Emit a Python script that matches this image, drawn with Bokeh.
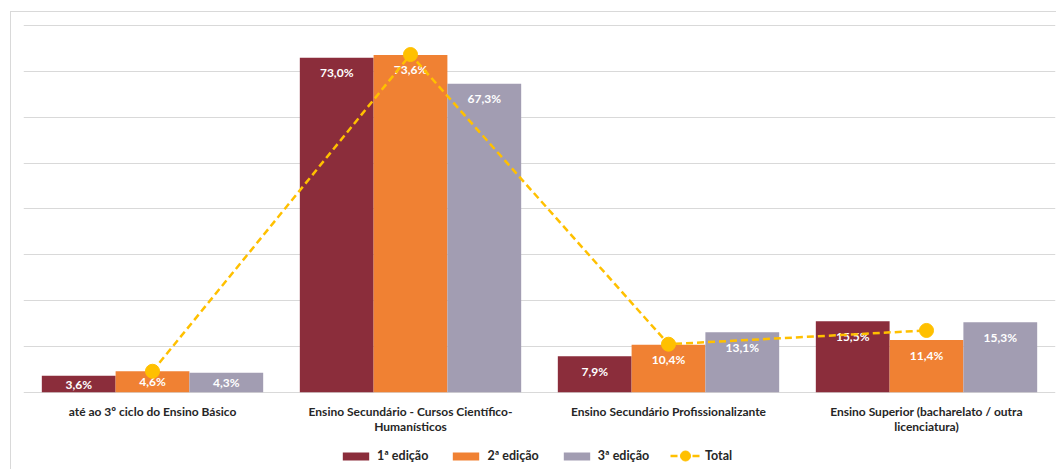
from bokeh.plotting import figure
from bokeh.models import (FactorRange, Range1d, ColumnDataSource, Legend, LegendItem,
                          FixedTicker)
from bokeh.transform import dodge
from bokeh.core.properties import value
from bokeh.embed import file_html
from bokeh.resources import INLINE

categories = ["até ao 3º ciclo do Ensino Básico",
              "Ensino Secundário - Cursos Científico-\nHumanísticos",
              "Ensino Secundário Profissionalizante",
              "Ensino Superior (bacharelato / outra\nlicenciatura)"]
ed1 = [3.6, 73.0, 7.9, 15.5]
ed2 = [4.6, 73.6, 10.4, 11.4]
ed3 = [4.3, 67.3, 13.1, 15.3]
total = [4.6, 73.7, 10.5, 13.5]
grid_ticks = [0, 10, 20, 30, 40, 50, 60, 70, 80]
series_names = ["1ª edição", "2ª edição", "3ª edição"]
total_name = "Total"
colors = ["#8B2D3B", "#F08133", "#A29DB2"]
total_color = "#FFC000"

FONT = "Lato"
BW = 0.286

p = figure(x_range=FactorRange(*categories), y_range=Range1d(-17.05, 80.25),
           width=1046, height=458, output_backend="svg", toolbar_location=None,
           min_border_left=12, min_border_right=2, min_border_top=12, min_border_bottom=0)
p.margin = (11, 0, 0, 10)
p.stylesheets = [":host { border-top: 1px solid #d9d9d9; border-left: 1px solid #d9d9d9; box-sizing: border-box; }"]
p.outline_line_color = None
p.xgrid.grid_line_color = None
p.ygrid.ticker = FixedTicker(ticks=grid_ticks)
p.ygrid.grid_line_color = "#d9d9d9"
p.ygrid.grid_line_width = 1
p.yaxis.visible = False
p.xaxis.visible = False

# category labels (drawn below the baseline)
l1 = [c.split("\n")[0] for c in categories]
l2 = [c.split("\n")[1] if "\n" in c else "" for c in categories]
csrc = ColumnDataSource(dict(cat=categories, l1=l1, l2=l2, y0=[0] * len(categories)))
for col, off in (("l1", 19), ("l2", 34)):
    p.text(x="cat", y="y0", text=col, y_offset=off, source=csrc,
           text_align="center", text_baseline="middle", text_color="#262626",
           text_font=value(FONT), text_font_style="bold", text_font_size="12px")

offsets = [-BW, 0.0, BW]
series = [ed1, ed2, ed3]
bar_renderers = []
for name, vals, col, off in zip(series_names, series, colors, offsets):
    src = ColumnDataSource(dict(
        cat=categories, v=vals,
        ly=[v if v >= 7 else v / 2 for v in vals],
        lo=[15 if v >= 7 else 0 for v in vals],
        txt=[("%.1f%%" % v).replace(".", ",") for v in vals]))
    r = p.vbar(x=dodge("cat", off, range=p.x_range), top="v", width=BW, source=src,
               fill_color=col, line_color=None)
    bar_renderers.append(r)
    p.text(x=dodge("cat", off, range=p.x_range), y="ly", text="txt", y_offset="lo", source=src,
           text_align="center", text_baseline="middle", text_color="white",
           text_font=value(FONT), text_font_style="bold", text_font_size="12px")

tsrc = ColumnDataSource(dict(cat=categories, v=total))
ln = p.line(x="cat", y="v", source=tsrc, line_color=total_color, line_width=2.5, line_dash="7 4")
sc = p.scatter(x="cat", y="v", source=tsrc, size=14, fill_color=total_color, line_color=total_color)

common = dict(orientation="horizontal", border_line_color=None, background_fill_alpha=0,
              label_text_font=FONT, label_text_font_style="bold", label_text_font_size="12.5px",
              label_text_color="#262626", label_standoff=5, margin=0)
legend = Legend(items=[LegendItem(label=n, renderers=[r]) for n, r in zip(series_names, bar_renderers)],
                location=(316, 7), glyph_width=33, glyph_height=10, spacing=21, padding=6, **common)
legend2 = Legend(items=[LegendItem(label=total_name, renderers=[ln, sc])],
                 location=(647, 2), glyph_width=30, glyph_height=25, padding=0, **common)
p.add_layout(legend, "center")
p.add_layout(legend2, "center")

open("out.html", "w").write(file_html(p, INLINE))
